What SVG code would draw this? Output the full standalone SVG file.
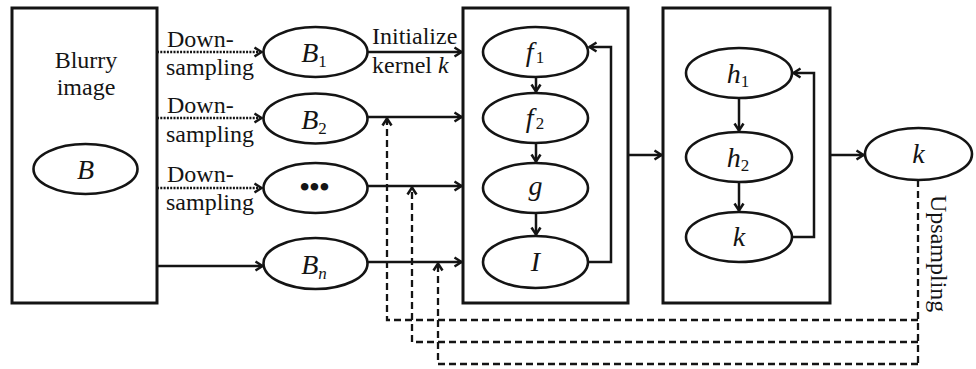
<svg xmlns="http://www.w3.org/2000/svg" width="976" height="369" viewBox="0 0 976 369">
  <style>
    .box { fill: none; stroke: #141414; stroke-width: 3; }
    .node { fill: #fff; stroke: #141414; stroke-width: 2.6; }
    .txt { font-family: "Liberation Serif", "DejaVu Serif", serif; font-size: 24px; fill: #141414; }
    .lbl { font-family: "Liberation Serif", "DejaVu Serif", serif; font-size: 28px; fill: #141414; text-anchor: middle; }
    .sub { font-size: 17px; font-style: normal; }
    .it { font-style: italic; }
    .solid { fill: none; stroke: #141414; stroke-width: 2.5; }
    .dotted { fill: none; stroke: #141414; stroke-width: 2.5; stroke-dasharray: 2 1.3; }
    .dashed { fill: none; stroke: #141414; stroke-width: 2.3; stroke-dasharray: 7 4; }
  </style>
  <defs>
    <marker id="arrow" viewBox="0 0 10 12" refX="9" refY="6" markerWidth="10" markerHeight="12" markerUnits="userSpaceOnUse" orient="auto">
      <path d="M1.5,1.5 L8.5,6 L1.5,10.5" fill="none" stroke="#141414" stroke-width="2.5" stroke-linejoin="miter"/>
    </marker>
  </defs>

  <!-- input image block -->
  <g id="blurry-image">
    <rect class="box" x="12" y="8" width="145" height="295"/>
    <text class="txt" x="86" y="68" text-anchor="middle">Blurry</text>
    <text class="txt" x="86" y="95" text-anchor="middle">image</text>
    <ellipse class="node" cx="85.5" cy="169" rx="52" ry="25"/>
    <text class="lbl it" x="85.5" y="179">B</text>
  </g>

  <!-- pyramid levels -->
  <g id="node-b1">
    <ellipse class="node" cx="315.5" cy="52" rx="52" ry="25"/>
    <text class="lbl" x="314" y="62"><tspan class="it">B</tspan><tspan class="sub" dy="5">1</tspan></text>
  </g>
  <g id="node-b2">
    <ellipse class="node" cx="315.5" cy="118.5" rx="52" ry="25"/>
    <text class="lbl" x="314" y="129"><tspan class="it">B</tspan><tspan class="sub" dy="5">2</tspan></text>
  </g>
  <g id="node-dots">
    <ellipse class="node" cx="315.5" cy="188" rx="52" ry="25"/>
    <text class="lbl" x="314.5" y="196" font-weight="bold" font-size="22">•••</text>
  </g>
  <g id="node-bn">
    <ellipse class="node" cx="315.5" cy="263.5" rx="52" ry="25.5"/>
    <text class="lbl" x="314" y="274"><tspan class="it">B</tspan><tspan class="sub it" dy="5">n</tspan></text>
  </g>

  <!-- latent image / kernel estimation block -->
  <g id="estimate-block">
    <rect class="box" x="463" y="8" width="165" height="295"/>
  </g>
  <g id="node-f1">
    <ellipse class="node" cx="535.5" cy="52" rx="52.5" ry="25"/>
    <text class="lbl" x="535" y="61"><tspan class="it">f</tspan><tspan class="sub" dx="2" dy="2">1</tspan></text>
  </g>
  <g id="node-f2">
    <ellipse class="node" cx="535.5" cy="118" rx="52.5" ry="25"/>
    <text class="lbl" x="535" y="127"><tspan class="it">f</tspan><tspan class="sub" dx="2" dy="2">2</tspan></text>
  </g>
  <g id="node-g">
    <ellipse class="node" cx="535.5" cy="188" rx="52.5" ry="25"/>
    <text class="lbl it" x="535.5" y="195">g</text>
  </g>
  <g id="node-i">
    <ellipse class="node" cx="535.5" cy="262" rx="52.5" ry="26"/>
    <text class="lbl it" x="535.5" y="271">I</text>
  </g>

  <!-- kernel refinement block -->
  <g id="refine-block">
    <rect class="box" x="663" y="8" width="167" height="295"/>
  </g>
  <g id="node-h1">
    <ellipse class="node" cx="739" cy="73" rx="53" ry="25"/>
    <text class="lbl" x="738" y="83"><tspan class="it">h</tspan><tspan class="sub" dy="4">1</tspan></text>
  </g>
  <g id="node-h2">
    <ellipse class="node" cx="739" cy="157" rx="53" ry="25"/>
    <text class="lbl" x="738" y="167"><tspan class="it">h</tspan><tspan class="sub" dy="4">2</tspan></text>
  </g>
  <g id="node-k-inner">
    <ellipse class="node" cx="739" cy="237" rx="53" ry="25"/>
    <text class="lbl it" x="739" y="246">k</text>
  </g>

  <!-- output kernel -->
  <g id="node-k-out">
    <ellipse class="node" cx="918.5" cy="154" rx="53.5" ry="26"/>
    <text class="lbl it" x="918.5" y="163">k</text>
  </g>

  <!-- connectors -->
  <g id="connectors">
    <path class="dotted" d="M157,52 H262" marker-end="url(#arrow)"/>
    <path class="dotted" d="M157,118 H262" marker-end="url(#arrow)"/>
    <path class="dotted" d="M157,188 H262" marker-end="url(#arrow)"/>
    <path class="solid" d="M157,266 H263" marker-end="url(#arrow)"/>

    <path class="solid" d="M368,52 H462" marker-end="url(#arrow)"/>
    <path class="solid" d="M367,117 H462" marker-end="url(#arrow)"/>
    <path class="solid" d="M367,186 H462" marker-end="url(#arrow)"/>
    <path class="solid" d="M367,262 H462" marker-end="url(#arrow)"/>

    <path class="solid" d="M536,77 V92" marker-end="url(#arrow)"/>
    <path class="solid" d="M536,143 V162" marker-end="url(#arrow)"/>
    <path class="solid" d="M536,213 V235" marker-end="url(#arrow)"/>
    <path class="solid" d="M588,262 H611 V47 H589" marker-end="url(#arrow)"/>

    <path class="solid" d="M628,155 H662" marker-end="url(#arrow)"/>

    <path class="solid" d="M739,98 V131" marker-end="url(#arrow)"/>
    <path class="solid" d="M739,182 V211" marker-end="url(#arrow)"/>
    <path class="solid" d="M792,237 H814 V73 H793" marker-end="url(#arrow)"/>

    <path class="solid" d="M830,155 H864" marker-end="url(#arrow)"/>

    <path class="dashed" d="M918,180 V364"/>
    <path class="dashed" d="M918,320 H387 V118" marker-end="url(#arrow)"/>
    <path class="dashed" d="M918,342 H412 V187" marker-end="url(#arrow)"/>
    <path class="dashed" d="M918,364 H438 V263" marker-end="url(#arrow)"/>
  </g>

  <!-- connector labels -->
  <g id="labels">
    <text class="txt" x="167" y="47">Down-</text>
    <text class="txt" x="166" y="75">sampling</text>
    <text class="txt" x="167" y="113">Down-</text>
    <text class="txt" x="166" y="142">sampling</text>
    <text class="txt" x="167" y="182">Down-</text>
    <text class="txt" x="166" y="210">sampling</text>
    <text class="txt" x="372" y="44">Initialize</text>
    <text class="txt" x="372" y="73">kernel <tspan class="it">k</tspan></text>
    <text class="txt" transform="translate(931,195) rotate(90)">Upsampling</text>
  </g>
</svg>
